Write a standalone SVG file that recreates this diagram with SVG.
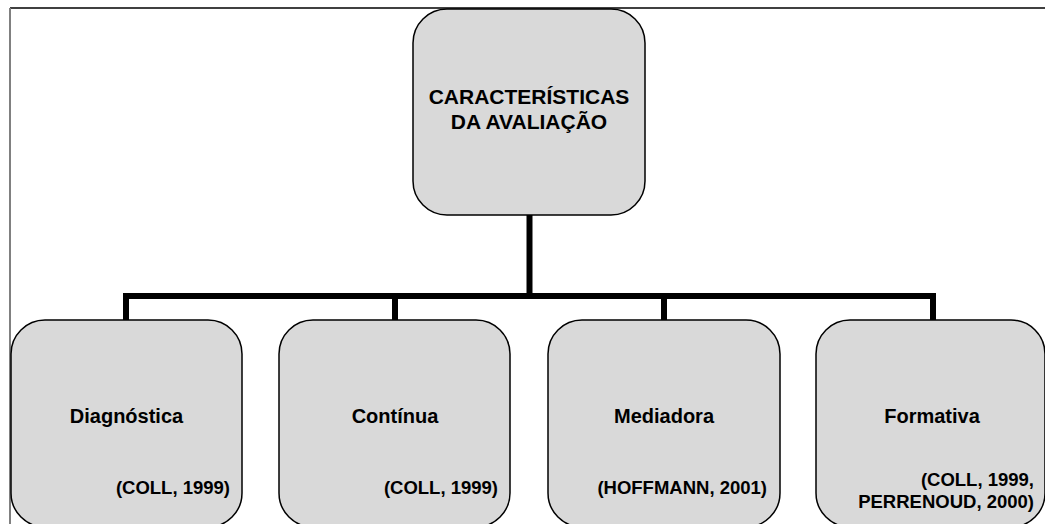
<svg xmlns="http://www.w3.org/2000/svg" width="1045" height="524" viewBox="0 0 1045 524">
<style>
.box{fill:#d9d9d9;stroke:#000;stroke-width:1.5}
.conn{fill:none;stroke:#000;stroke-width:6;stroke-linejoin:miter;stroke-linecap:butt}
text{font-family:"Liberation Sans",Arial,sans-serif;font-weight:bold;fill:#000}
.t{font-size:21px;text-anchor:middle}
.l{font-size:20px;text-anchor:middle}
.c{font-size:18.5px;text-anchor:end}
</style>
<rect width="1045" height="524" fill="#fff"/>
<g id="frame">
<line x1="10" y1="8" x2="1045" y2="8" stroke="#000" stroke-width="1.5"/>
<line x1="10" y1="8" x2="10" y2="524" stroke="#808080" stroke-width="2"/>
</g>
<g id="connectors">
<path class="conn" d="M529.5 215 V296"/>
<path class="conn" d="M126 320 V296 H933 V320"/>
<path class="conn" d="M395 296 V320"/>
<path class="conn" d="M664 296 V320"/>
</g>
<g id="root">
<rect class="box" x="413" y="9" width="232" height="206" rx="34" ry="34"/>
<text class="t" x="529" y="104">CARACTERÍSTICAS</text>
<text class="t" x="529" y="129">DA AVALIAÇÃO</text>
</g>
<g id="diagnostica">
<rect class="box" x="11" y="320" width="231" height="207" rx="34" ry="34"/>
<text class="l" x="126.5" y="423">Diagnóstica</text>
<text class="c" x="230" y="494">(COLL, 1999)</text>
</g>
<g id="continua">
<rect class="box" x="279" y="320" width="231" height="207" rx="34" ry="34"/>
<text class="l" x="395" y="423">Contínua</text>
<text class="c" x="498" y="494">(COLL, 1999)</text>
</g>
<g id="mediadora">
<rect class="box" x="548" y="320" width="232" height="207" rx="34" ry="34"/>
<text class="l" x="664" y="423">Mediadora</text>
<text class="c" x="767" y="494">(HOFFMANN, 2001)</text>
</g>
<g id="formativa">
<rect class="box" x="816" y="320" width="229" height="207" rx="34" ry="34"/>
<text class="l" x="932" y="423">Formativa</text>
<text class="c" x="1034" y="486">(COLL, 1999,</text>
<text class="c" x="1034" y="508">PERRENOUD, 2000)</text>
</g>
</svg>
